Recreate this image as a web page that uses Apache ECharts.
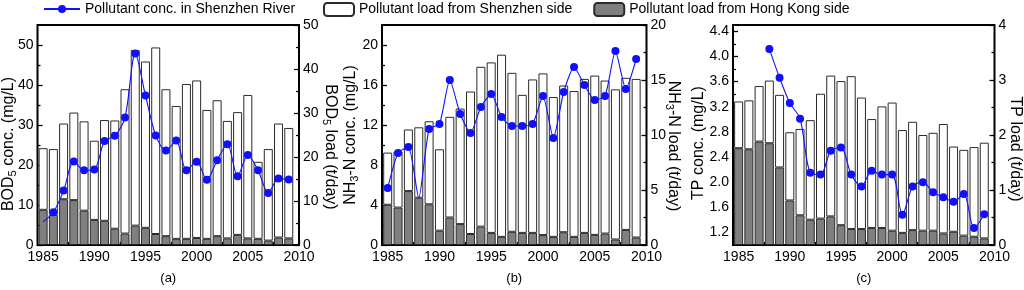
<!DOCTYPE html>
<html><head><meta charset="utf-8">
<script src="https://cdn.jsdelivr.net/npm/echarts@6/dist/echarts.min.js"></script>
<style>html,body{margin:0;padding:0;background:#fff}#c{width:1024px;height:290px}</style>
</head><body><div id="c"></div>
<script>
// ---------- data ----------
const years = [1985,1986,1987,1988,1989,1990,1991,1992,1993,1994,1995,1996,1997,1998,1999,2000,2001,2002,2003,2004,2005,2006,2007,2008,2009];
const xTickLabels = [1985,1990,1995,2000,2005,2010];
const xMinorTicks = [1987.5,1992.5,1997.5,2002.5,2007.5];

const bodConc   = [5.8,8.2,13.6,20.9,18.7,18.9,26.0,27.3,31.9,47.9,37.4,27.4,23.6,26.1,18.7,20.8,16.3,21.2,25.2,17.2,22.5,18.7,13.0,16.6,16.4];
const bodNoMarker = [1985];
const bodLoadHK = [8.0,6.9,10.4,10.2,7.8,5.7,5.5,3.7,2.6,4.4,3.9,2.5,2.0,1.4,1.4,1.6,1.4,2.0,1.5,2.3,1.5,1.4,1.0,1.7,1.5];
const bodLoadSZ = [14.0,14.9,17.2,19.9,20.3,18.0,22.9,24.6,32.8,39.9,37.8,42.4,33.4,30.2,35.2,35.8,29.3,30.9,26.7,27.9,32.6,17.5,20.8,25.9,25.1];

const nh3Conc   = [5.7,9.2,9.8,4.7,11.6,12.1,16.5,13.1,11.2,13.8,15.1,12.8,11.9,11.9,12.1,14.9,10.7,15.3,17.8,16.0,14.5,14.9,19.4,15.6,18.6];
const nh3NoMarker = [1988];
const nh3LoadHK = [3.66,3.4,4.9,4.3,3.7,1.3,2.5,1.9,1.0,1.67,1.1,0.74,1.2,1.1,1.1,0.9,0.74,1.16,0.74,1.1,0.92,1.04,0.5,1.37,0.68];
const nh3LoadSZ = [4.74,5.1,5.6,6.4,7.55,7.4,9.15,10.5,12.95,14.53,15.5,16.56,14.45,12.55,13.95,14.7,12.71,13.34,13.26,14.0,14.48,13.91,13.65,13.83,14.42];

const tpConc   = [null,null,null,4.12,3.66,3.26,3.01,2.15,2.12,2.50,2.55,2.12,1.93,2.18,2.12,2.12,1.48,1.93,2.0,1.84,1.76,1.69,1.81,1.27,1.49];
const tpNoMarker = [];
const tpLoadHK = [1.76,1.74,1.88,1.85,1.41,0.81,0.54,0.46,0.48,0.52,0.36,0.29,0.29,0.31,0.31,0.26,0.22,0.27,0.26,0.26,0.21,0.24,0.17,0.15,0.12];
const tpLoadSZ = [0.85,0.89,1.01,1.14,1.32,1.24,1.57,1.81,2.27,2.56,2.62,2.78,2.39,1.98,2.21,2.33,1.87,1.97,1.74,1.78,1.99,1.55,1.56,1.63,1.74];

const bodConcTicks = [0,10,20,30,40,50];
const bodConcMinor = [5,15,25,35,45];
const bodLoadTicks = [0,10,20,30,40,50];
const bodLoadMinor = [5,15,25,35,45];
const nh3ConcTicks = [0,4,8,12,16,20];
const nh3ConcMinor = [2,6,10,14,18];
const nh3LoadTicks = [0,5,10,15,20];
const nh3LoadMinor = [2.5,7.5,12.5,17.5];
const tpConcTicks = [1.2,1.6,2.0,2.4,2.8,3.2,3.6,4.0,4.4];
const tpConcMinor = [1.4,1.8,2.2,2.6,3.0,3.4,3.8,4.2];
const tpLoadTicks = [0,1,2,3,4];
const tpLoadMinor = [0.5,1.5,2.5,3.5];

const NAME_LINE = 'Pollutant conc. in Shenzhen River';
const NAME_SZ = 'Pollutant load from Shenzhen side';
const NAME_HK = 'Pollutant load from Hong Kong side';

// ---------- layout ----------
const FONT = "'Liberation Sans', Arial, sans-serif";
const panels = [
  {left:36, right:725, conc:bodConc, noMark:bodNoMarker, hk:bodLoadHK, sz:bodLoadSZ,
   lmin:0, lmax:55, lT:bodConcTicks, lM:bodConcMinor, rmax:50, rT:bodLoadTicks, rM:bodLoadMinor,
   lname:'{t|BOD}{s|5}{t| conc. (mg/L)}', rname:'{t|BOD}{s|5}{t| load (t/day)}', sub:'(a)', dec:0,
   lgap:19, rgap:22, lshift:9, rshift:12, smooth:0.3},
  {left:382, right:377.5, conc:nh3Conc, noMark:nh3NoMarker, hk:nh3LoadHK, sz:nh3LoadSZ,
   lmin:0, lmax:22, lT:nh3ConcTicks, lM:nh3ConcMinor, rmax:20, rT:nh3LoadTicks, rM:nh3LoadMinor,
   lname:'{t|NH}{s|3}{t|-N conc. (mg/L)}', rname:'{t|NH}{s|3}{t|-N load (t/day)}', sub:'(b)', dec:0,
   lgap:22, rgap:17, lshift:0, rshift:11, smooth:0.2},
  {left:733, right:28, conc:tpConc, noMark:tpNoMarker, hk:tpLoadHK, sz:tpLoadSZ,
   lmin:1.0, lmax:4.5, lT:tpConcTicks, lM:tpConcMinor, rmax:4, rT:tpLoadTicks, rM:tpLoadMinor,
   lname:'{t|TP conc. (mg/L)}', rname:'{t|TP load (t/day)}', sub:'(c)', dec:1,
   lgap:25, rgap:11, lshift:8, rshift:14, smooth:0.3}
];

const grids = [], xAxes = [], yAxes = [], series = [];
const tickStyle = {color:'#000', width:1.3};
const labelStyle = {fontSize:14, color:'#000', fontFamily:FONT};
const rich = {t:{fontSize:16, fontFamily:FONT, color:'#000', lineHeight:19},
              s:{fontSize:11, fontFamily:FONT, color:'#000', lineHeight:11, verticalAlign:'bottom'}};

panels.forEach((p, i) => {
  grids.push({left:p.left, right:p.right, top:25, bottom:41, show:true, borderColor:'#000', borderWidth:2, backgroundColor:'transparent'});
  const xMain = xAxes.length;
  xAxes.push({type:'value', gridIndex:i, position:'bottom', min:1984.45, max:2010,
    axisLine:{show:false, onZero:false}, splitLine:{show:false},
    axisTick:{show:true, inside:true, length:5, customValues:xTickLabels, lineStyle:tickStyle},
    axisLabel:{show:true, customValues:xTickLabels, margin:5, formatter:v=>String(v), ...labelStyle},
    name:p.sub, nameLocation:'middle', nameGap:27, nameMoveOverlap:false,
    nameTextStyle:{fontSize:13, fontFamily:FONT, color:'#000'}});
  xAxes.push({type:'value', gridIndex:i, position:'bottom', min:1984.45, max:2010,
    axisLine:{show:false, onZero:false}, splitLine:{show:false},
    axisTick:{show:true, inside:true, length:3, customValues:xMinorTicks, lineStyle:tickStyle},
    axisLabel:{show:false}});
  const yL = yAxes.length;
  yAxes.push({type:'value', gridIndex:i, position:'left', min:p.lmin, max:p.lmax,
    axisLine:{show:false, onZero:false}, splitLine:{show:false},
    axisTick:{show:true, inside:true, length:5, customValues:p.lT, lineStyle:tickStyle},
    axisLabel:{show:true, customValues:p.lT, margin:4, formatter:v=>Number(v).toFixed(p.dec), ...labelStyle},
    name:p.lname, nameLocation:'middle', nameGap:p.lgap, nameRotate:90, nameMoveOverlap:false,
    nameTextStyle:{rich:rich, padding:[0, 2*p.lshift, 0, 0]}});
  yAxes.push({type:'value', gridIndex:i, position:'left', min:p.lmin, max:p.lmax,
    axisLine:{show:false, onZero:false}, splitLine:{show:false},
    axisTick:{show:true, inside:true, length:3, customValues:p.lM, lineStyle:tickStyle},
    axisLabel:{show:false}});
  const yR = yAxes.length;
  yAxes.push({type:'value', gridIndex:i, position:'right', min:0, max:p.rmax,
    axisLine:{show:false, onZero:false}, splitLine:{show:false},
    axisTick:{show:true, inside:true, length:5, customValues:p.rT, lineStyle:tickStyle},
    axisLabel:{show:true, customValues:p.rT, margin:4, ...labelStyle},
    name:p.rname, nameLocation:'middle', nameGap:p.rgap, nameRotate:-90, nameMoveOverlap:false,
    nameTextStyle:{rich:rich, padding:[0, 0, 0, 2*p.rshift]}});
  yAxes.push({type:'value', gridIndex:i, position:'right', min:0, max:p.rmax,
    axisLine:{show:false, onZero:false}, splitLine:{show:false},
    axisTick:{show:true, inside:true, length:3, customValues:p.rM, lineStyle:tickStyle},
    axisLabel:{show:false}});

  // bars: value first (stacked dimension), year second; encode maps them to axes
  series.push({name:NAME_HK, type:'bar', xAxisIndex:xMain, yAxisIndex:yR, stack:'load'+i, barWidth:9,
    encode:{x:1, y:0},
    itemStyle:{color:'#7f7f7f', borderColor:'#2b2b2b', borderWidth:1}, z:2,
    data:years.map((y,k)=>[p.hk[k], y])});
  series.push({name:NAME_SZ, type:'bar', xAxisIndex:xMain, yAxisIndex:yR, stack:'load'+i, barWidth:9,
    encode:{x:1, y:0},
    itemStyle:{color:'#ffffff', borderColor:'#2b2b2b', borderWidth:1}, z:2,
    data:years.map((y,k)=>[p.sz[k], y])});
  const lineData = [];
  years.forEach((y,k)=>{
    if (p.conc[k] == null) return;
    const item = {value:[y, p.conc[k]]};
    if (p.noMark.includes(y)) item.symbol = 'none';
    lineData.push(item);
  });
  series.push({name:NAME_LINE, type:'line', xAxisIndex:xMain, yAxisIndex:yL, z:5,
    smooth:p.smooth, symbol:'circle', symbolSize:8, showAllSymbol:true,
    lineStyle:{color:'#1010ff', width:1.1}, itemStyle:{color:'#1010ff'},
    data:lineData});
});

const chart = echarts.init(document.getElementById('c'), null, {renderer:'canvas'});
chart.setOption({
  animation:false,
  backgroundColor:'#fff',
  grid:grids, xAxis:xAxes, yAxis:yAxes, series:series,
  legend:[
    {data:[NAME_LINE], left:43, top:2, padding:0, itemWidth:36, itemHeight:10, itemGap:21,
     textStyle:{fontSize:14, fontFamily:FONT, color:'#000'}},
    {data:[NAME_SZ, NAME_HK], left:323, top:2, padding:0, itemWidth:30, itemHeight:13, itemGap:21,
     textStyle:{fontSize:14, fontFamily:FONT, color:'#000'}}
  ]
});
</script></body></html>
